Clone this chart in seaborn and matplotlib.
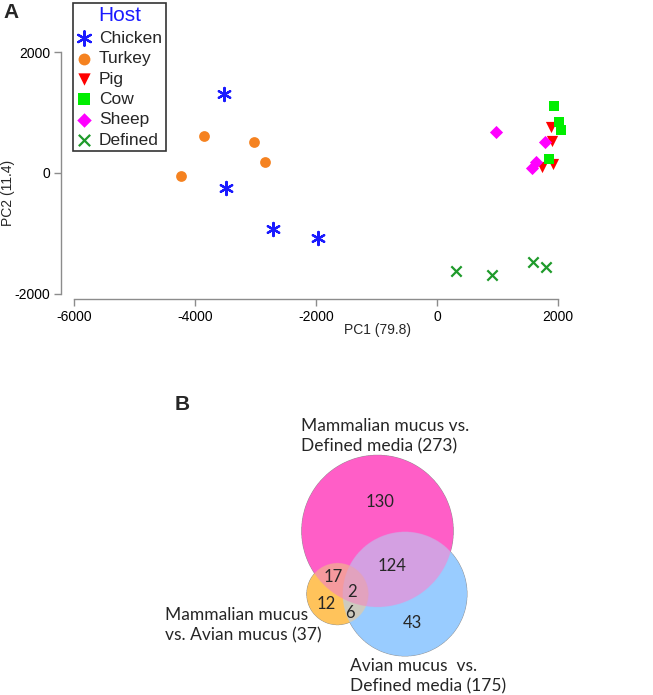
import numpy as np
import pandas as pd
import seaborn as sns
import matplotlib.pyplot as plt
from matplotlib.colors import to_rgba

# A: PCA 坐标
host = ['Chicken'] * 4 + ['Turkey'] * 4 + ['Pig'] * 4 + ['Cow'] * 4 + ['Sheep'] * 4 + ['Defined'] * 4
pc1 = [-3521, -3488, -2711, -1967,
       -4231, -3851, -3025, -2843,
       1884, 1901, 1736, 1917,
       1934, 2017, 2050, 1851,
       975, 1785, 1636, 1570,
       314, 909, 1587, 1802]
pc2 = [1306, -248, -926, -1074,
       -50, 612, 512, 182,
       760, 529, 99, 149,
       1107, 843, 711, 231,
       678, 512, 182, 83,
       -1620, -1686, -1471, -1554]
host_order = ['Chicken', 'Turkey', 'Pig', 'Cow', 'Sheep', 'Defined']
xticks = [-6000, -4000, -2000, 0, 2000]
yticks = [-2000, 0, 2000]

# B: Venn 数据
set_labels = ['Mammalian mucus vs.\nDefined media (273)',
              'Avian mucus  vs.\nDefined media (175)',
              'Mammalian mucus\nvs. Avian mucus (37)']
set_sizes = [273, 175, 37]
# 区域 (in_MD, in_AD, in_MA) -> 基因数
region_keys = [(1, 0, 0), (1, 1, 0), (1, 0, 1), (1, 1, 1), (0, 0, 1), (0, 1, 1), (0, 1, 0)]
region_counts = [130, 124, 17, 2, 12, 6, 43]

df = pd.DataFrame({'PC1': pc1, 'PC2': pc2, 'Host': host})

colors = {'Chicken': '#1a1aff', 'Turkey': '#f58220', 'Pig': '#ff0000',
          'Cow': '#00ee00', 'Sheep': '#ff00ff', 'Defined': '#1e9a2a'}
markers = {'Chicken': (6, 2, 0), 'Turkey': 'o', 'Pig': 'v',
           'Cow': 's', 'Sheep': 'D', 'Defined': 'x'}
sizes = {'Chicken': 90, 'Turkey': 60, 'Pig': 65, 'Cow': 60, 'Sheep': 45, 'Defined': 55}

sns.set_style('white')
plt.rcParams['font.family'] = ['Liberation Sans', 'DejaVu Sans']

W, H = 653, 695
fig = plt.figure(figsize=(W / 100, H / 100), dpi=100)

ax = fig.add_axes([61 / W, 1 - 299 / H, (640 - 61) / W, (299 - 3) / H])
for h in host_order:
    sub = df[df['Host'] == h]
    filled = h not in ('Chicken', 'Defined')
    sns.scatterplot(data=sub, x='PC1', y='PC2', ax=ax, color=colors[h], marker=markers[h],
                    s=sizes[h], label=h, legend=False,
                    edgecolor=colors[h] if filled else None,
                    linewidth=0 if filled else 1.6)

ax.set_xlim(-6215, 3355)
ax.set_ylim(-2083, 2810)
ax.set_xticks(xticks)
ax.set_yticks(yticks)
ax.set_xticklabels([str(t) for t in xticks], fontsize=10)
ax.set_yticklabels([str(t) for t in yticks], fontsize=10)
for s in ['top', 'right']:
    ax.spines[s].set_visible(False)
ax.spines['bottom'].set_bounds(-6000, 2000)
ax.spines['left'].set_bounds(-2000, 2000)
for s in ['bottom', 'left']:
    ax.spines[s].set_color('#8c8c8c')
    ax.spines[s].set_linewidth(1)
ax.tick_params(axis='both', direction='out', length=5, width=1, color='#8c8c8c',
               labelcolor='black', pad=3, bottom=True, left=True)
ax.set_xlabel('PC1 (79.8)', fontsize=10)
ax.set_ylabel('PC2 (11.4)', fontsize=10)
ax.xaxis.set_label_coords((377 - 61) / 579, (299 - 323) / 296)
ax.yaxis.set_label_coords((15 - 61) / 579, (299 - 193) / 296)

handles, labels = ax.get_legend_handles_labels()
leg = ax.legend(handles, labels, title='Host', loc='upper left',
                bbox_to_anchor=(73 / W, 1 - 3 / H), bbox_transform=fig.transFigure,
                borderaxespad=0, fontsize=12.5, title_fontsize=15, frameon=True,
                fancybox=False, edgecolor='black', handlelength=0.9, handletextpad=0.4,
                labelspacing=0.3, borderpad=0.2, markerscale=1.1)
leg.get_frame().set_linewidth(1.2)
leg.get_title().set_color('#1a1aff')

fig.text(3 / W, 1 - 13 / H, 'A', fontsize=15, fontweight='bold', va='center', ha='left')

# B: Venn 图，叠加一个像素坐标的坐标轴
axb = fig.add_axes([0, 0, 1, 1])
axb.set_xlim(0, W)
axb.set_ylim(H, 0)
axb.axis('off')

centers = [(377.5, 531), (405, 594), (337.5, 594)]
k = 76 / 273 ** 0.45
radii = [k * n ** 0.45 for n in set_sizes]
region_colors = {(1, 0, 0): '#ff5ec8', (0, 1, 0): '#99ccff', (0, 0, 1): '#ffc45c',
                 (1, 1, 0): '#d4a0e2', (1, 0, 1): '#f59a9e', (0, 1, 1): '#cdcbbf',
                 (1, 1, 1): '#e2a2bf'}
ss = 4
x0, x1, y0, y1 = 280, 490, 440, 670
gx = np.arange(x0, x1, 1 / ss) + 0.5 / ss
gy = np.arange(y0, y1, 1 / ss) + 0.5 / ss
X, Y = np.meshgrid(gx, gy)
inside = [((X - cx) ** 2 + (Y - cy) ** 2 <= r ** 2).astype(int) for (cx, cy), r in zip(centers, radii)]
img = np.zeros(X.shape + (4,))
for key, col in region_colors.items():
    m = (inside[0] == key[0]) & (inside[1] == key[1]) & (inside[2] == key[2])
    img[m] = to_rgba(col)
axb.imshow(img, extent=(x0, x1, y1, y0), interpolation='antialiased', aspect='auto')
axb.set_xlim(0, W)
axb.set_ylim(H, 0)

num_pos = {(1, 0, 0): (380, 502), (1, 1, 0): (392, 566), (1, 0, 1): (333, 577),
           (1, 1, 1): (352, 592), (0, 0, 1): (326, 604), (0, 1, 1): (350, 613),
           (0, 1, 0): (412, 623)}
venn_font = ['Lato', 'DejaVu Sans']
for key, n in zip(region_keys, region_counts):
    px, py = num_pos[key]
    axb.text(px, py, str(n), fontsize=12, ha='center', va='center', family=venn_font)

label_pos = [(301, 436), (350, 676), (165, 625)]
for (lx, ly), txt in zip(label_pos, set_labels):
    axb.text(lx, ly, txt, fontsize=12.5, ha='left', va='center', family=venn_font,
             linespacing=1.35)

axb.text(182, 404, 'B', fontsize=15, fontweight='bold', ha='center', va='center')

fig.savefig('out.png', dpi=100, facecolor='white')
